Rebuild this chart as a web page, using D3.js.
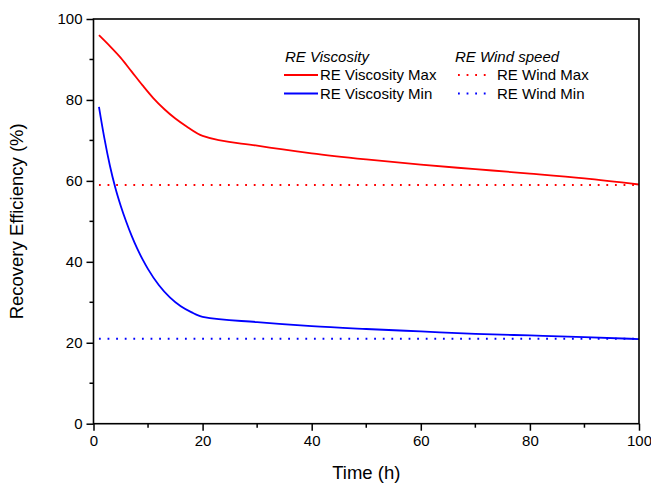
<!DOCTYPE html>
<html>
<head>
<meta charset="utf-8">
<title>Recovery Efficiency</title>
<style>
  body { margin: 0; background: #fff; }
  text { font-family: "Liberation Sans", Arial, sans-serif; fill: #000; }
</style>
</head>
<body>
<svg width="651" height="487"></svg>
<script src="https://d3js.org/d3.v7.min.js"></script>
<script>
// data
var maxTime = [1, 3, 5, 7, 9, 11, 13, 15, 17, 20, 30, 40, 50, 60, 70, 80, 90, 100];
var viscMax = [96, 93.3, 90.4, 87.0, 83.6, 80.4, 77.7, 75.4, 73.5, 71.1, 68.7, 66.8, 65.3, 64.0, 62.9, 61.8, 60.6, 59.1];

var minTime = [1, 2, 3, 4, 5, 6, 7, 8, 9, 10, 12, 14, 16, 18, 20, 30, 40, 50, 60, 70, 80, 90, 100];
var viscMin = [78.3, 70.5, 63.8, 58.3, 53.8, 49.9, 46.4, 43.3, 40.6, 38.2, 34.2, 31.2, 29.0, 27.5, 26.4,
               25.1, 24.1, 23.4, 22.8, 22.2, 21.8, 21.4, 20.9];

var windTime = [1, 100];
var windMax = [59, 59];
var windMin = [21, 21];

var xTicks = [0, 20, 40, 60, 80, 100];
var yTicks = [0, 20, 40, 60, 80, 100];

var svg = d3.select("svg");
var x = d3.scaleLinear().domain([0, 100]).range([93.5, 639]);
var y = d3.scaleLinear().domain([0, 100]).range([423.7, 19]);

function zip(xs, ys) { return xs.map(function(v, i) { return [v, ys[i]]; }); }

var line = d3.line()
  .x(function(d) { return x(d[0]); })
  .y(function(d) { return y(d[1]); })
  .curve(d3.curveMonotoneX);

// dotted lines
svg.append("path").attr("d", line(zip(windTime, windMax)))
  .attr("fill", "none").attr("stroke", "#ff0000").attr("stroke-width", 2)
  .attr("stroke-dasharray", "1.8,6.8");
svg.append("path").attr("d", line(zip(windTime, windMin)))
  .attr("fill", "none").attr("stroke", "#0000ff").attr("stroke-width", 2)
  .attr("stroke-dasharray", "1.8,6.8");

// solid lines
svg.append("path").attr("d", line(zip(maxTime, viscMax)))
  .attr("fill", "none").attr("stroke", "#ff0000").attr("stroke-width", 1.8);
svg.append("path").attr("d", line(zip(minTime, viscMin)))
  .attr("fill", "none").attr("stroke", "#0000ff").attr("stroke-width", 1.8);

// frame
svg.append("rect")
  .attr("x", x(0)).attr("y", y(100))
  .attr("width", x(100) - x(0)).attr("height", y(0) - y(100))
  .attr("fill", "none").attr("stroke", "#000").attr("stroke-width", 1.6);

// axes
var xAxis = d3.axisBottom(x).tickValues(xTicks).tickSize(7).tickPadding(5).tickFormat(d3.format("d"));
var yAxis = d3.axisLeft(y).tickValues(yTicks).tickSize(7).tickPadding(4).tickFormat(d3.format("d"));

var gx = svg.append("g").attr("transform", "translate(0," + y(0) + ")").call(xAxis);
var gy = svg.append("g").attr("transform", "translate(" + x(0) + ",0)").call(yAxis);

// minor ticks
gx.selectAll(".minor").data(d3.range(10, 100, 20)).enter().append("line")
  .attr("x1", function(d) { return x(d); }).attr("x2", function(d) { return x(d); })
  .attr("y1", 0).attr("y2", 4).attr("stroke", "#000").attr("stroke-width", 1.5);
gy.selectAll(".minor").data(d3.range(10, 100, 20)).enter().append("line")
  .attr("y1", function(d) { return y(d); }).attr("y2", function(d) { return y(d); })
  .attr("x1", 0).attr("x2", -4).attr("stroke", "#000").attr("stroke-width", 1.5);

[gx, gy].forEach(function(g) {
  g.select(".domain").remove();
  g.selectAll(".tick line").attr("stroke", "#000").attr("stroke-width", 1.5);
  g.selectAll(".tick text").style("font-size", "15px").style("font-family", "Liberation Sans, Arial, sans-serif");
});

// axis titles
svg.append("text").attr("x", x(50)).attr("y", 479)
  .attr("text-anchor", "middle").style("font-size", "18.5px").text("Time (h)");
svg.append("text").attr("transform", "translate(23," + y(50) + ") rotate(-90)")
  .attr("text-anchor", "middle").style("font-size", "18.5px").text("Recovery Efficiency (%)");

// legend
var legend = svg.append("g");
legend.append("text").attr("x", 285).attr("y", 62).style("font-size", "15px")
  .style("font-style", "italic").text("RE Viscosity");
legend.append("text").attr("x", 455).attr("y", 62).style("font-size", "15px")
  .style("font-style", "italic").text("RE Wind speed");

var rows = [
  { name: "RE Viscosity Max", color: "#ff0000", dash: null, lx: 284, tx: 320, ly: 75 },
  { name: "RE Viscosity Min", color: "#0000ff", dash: null, lx: 284, tx: 320, ly: 93.5 },
  { name: "RE Wind Max", color: "#ff0000", dash: "1.8,6.8", lx: 458, tx: 497, ly: 75 },
  { name: "RE Wind Min", color: "#0000ff", dash: "1.8,6.8", lx: 458, tx: 497, ly: 93.5 }
];
rows.forEach(function(r) {
  legend.append("line").attr("x1", r.lx).attr("x2", r.lx + 34).attr("y1", r.ly).attr("y2", r.ly)
    .attr("stroke", r.color).attr("stroke-width", r.dash ? 2 : 1.8)
    .attr("stroke-dasharray", r.dash);
  legend.append("text").attr("x", r.tx).attr("y", r.ly + 5).style("font-size", "15px").text(r.name);
});
</script>
</body>
</html>
